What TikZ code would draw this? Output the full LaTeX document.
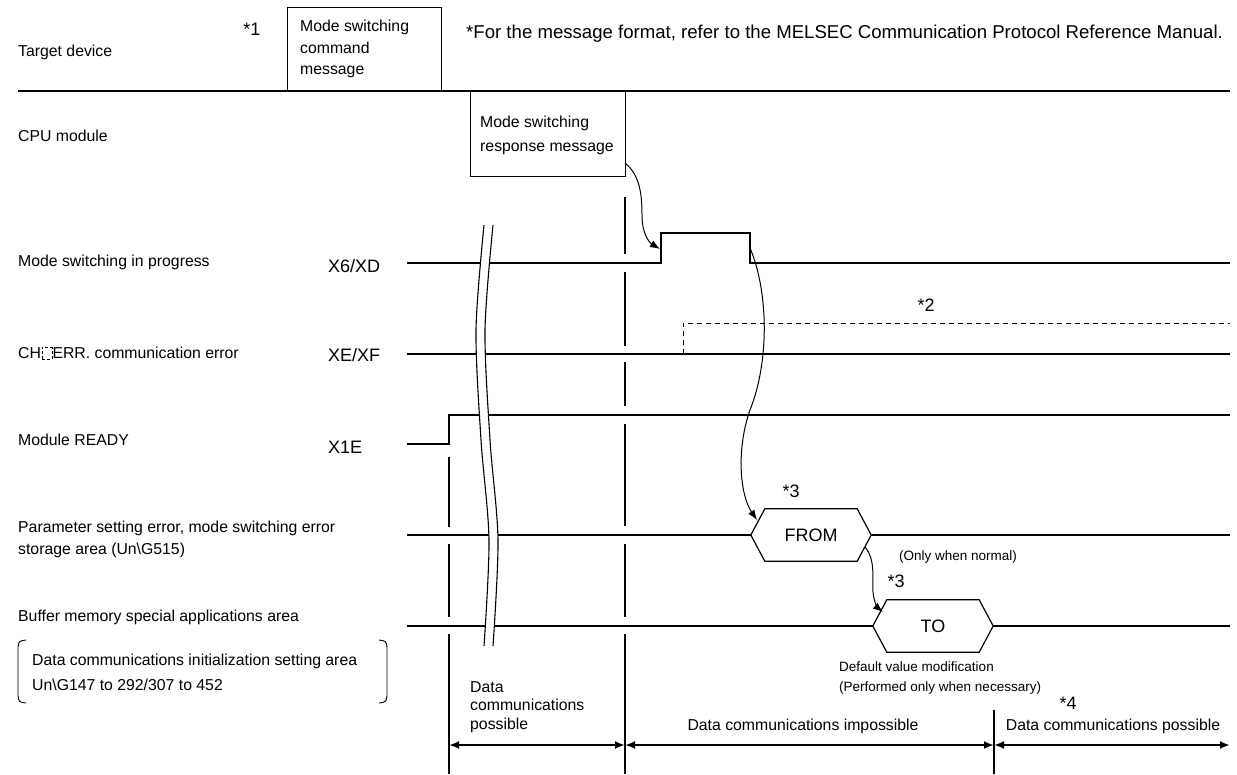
\documentclass[tikz,border=0pt]{standalone}
\usepackage{fontspec}
\setmainfont{Liberation Sans}
\usetikzlibrary{arrows.meta}
\begin{document}
\begin{tikzpicture}[x=1pt,y=-1pt,
  lbl/.style={anchor=west,inner sep=0pt,font=\fontsize{15.8}{19}\selectfont},
  big/.style={inner sep=0pt,font=\fontsize{18}{21}\selectfont},
  small/.style={anchor=west,inner sep=0pt,align=left,font=\fontsize{13.5}{20}\selectfont},
  sig/.style={line width=2.1pt},
  vline/.style={line width=2pt},
  msgbox/.style={draw,line width=1.1pt,anchor=north west,inner sep=0pt},
  hexnode/.style={minimum width=120pt,minimum height=52pt,inner sep=0pt,font=\fontsize{18}{21}\selectfont},
  hexline/.style={line width=1.2pt},
  carrow/.style={line width=1pt,-{Latex[length=10pt,width=7.5pt]}},
  darrow/.style={line width=2pt,{Latex[length=10pt,width=8pt]}-{Latex[length=10pt,width=8pt]}},
  brk/.style={line width=1.1pt}
]
\useasboundingbox (0,0) rectangle (1237,774);

% ---------- top section ----------
\node[lbl] (tdev) at (18,52) {Target device};
\node[big] (s1) at (252,29) {*1};
\node[msgbox,minimum width=154pt,minimum height=84pt] (cmd) at (287,7) {};
\node[lbl,align=left,anchor=north west,font=\fontsize{15.8}{21.5}\selectfont] (cmdt) at (300,20) {Mode switching\\command\\message};
\node[anchor=west,inner sep=0pt,font=\fontsize{18.6}{21}\selectfont] (note) at (466,34) {*For the message format, refer to the MELSEC Communication Protocol Reference Manual.};
\draw[line width=2.5pt] (18,91) -- (1230,91);

\node[lbl] (cpu) at (18,136) {CPU module};
\node[msgbox,minimum width=155pt,minimum height=85pt] (resp) at (470,91) {};
\node[lbl,align=left,anchor=north west,font=\fontsize{15.8}{24}\selectfont] (respt) at (480,116) {Mode switching\\response message};

% ---------- X6/XD ----------
\node[lbl] (l1) at (18,262) {Mode switching in progress};
\node[big,anchor=west] (x6) at (328,266) {X6/XD};
\draw[sig] (407,263) -- (661,263) -- (661,233) -- (750,233) -- (750,263) -- (1230,263);

% ---------- XE/XF ----------
\node[lbl] (l2) at (18,353) {CH\hspace{0.5pt}\tikz[baseline=0pt,x=1pt,y=1pt]\draw[densely dashed,line width=0.5pt] (0,0) rectangle (10,11.5);\hspace{0.5pt}ERR. communication error};
\node[big,anchor=west] (xe) at (328,355) {XE/XF};
\draw[sig] (407,354) -- (1230,354);
\draw[line width=1pt,dash pattern=on 5pt off 4pt] (683,354) -- (683,323) -- (1230,323);
\node[big] (s2) at (926,305) {*2};

% ---------- X1E ----------
\node[lbl] (l3) at (18,440) {Module READY};
\node[big,anchor=west] (x1e) at (328,447) {X1E};
\draw[sig] (407,444) -- (449,444) -- (449,415) -- (1230,415);

% ---------- Un\G515 ----------
\node[lbl,align=left,font=\fontsize{15.8}{22}\selectfont] (l4) at (18,539) {Parameter setting error, mode switching error\\storage area (Un\textbackslash G515)};
\node[hexnode] (from) at (811,535) {FROM};
\draw[sig] (407,535) -- (from.west);
\draw[sig] (from.east) -- (1230,535);
\draw[hexline] (from.west) -- ([xshift=14pt]from.north west) -- ([xshift=-14pt]from.north east) -- (from.east) -- ([xshift=-14pt]from.south east) -- ([xshift=14pt]from.south west) -- cycle;

% ---------- buffer memory ----------
\node[lbl] (l5) at (18,617) {Buffer memory special applications area};
\node[hexnode] (to) at (933,626) {TO};
\draw[sig] (407,626) -- (to.west);
\draw[sig] (to.east) -- (1230,626);
\draw[hexline] (to.west) -- ([xshift=14pt]to.north west) -- ([xshift=-14pt]to.north east) -- (to.east) -- ([xshift=-14pt]to.south east) -- ([xshift=14pt]to.south west) -- cycle;

\node[lbl,align=left,font=\fontsize{15.8}{25}\selectfont] (l6) at (32,672) {Data communications initialization setting area\\Un\textbackslash G147 to 292/307 to 452};
\draw[line width=0.9pt] (26,640) .. controls (19,641) .. (18,647) -- (18,696) .. controls (19,702) .. (26,703);
\draw[line width=0.9pt] (379,640) .. controls (386,641) .. (387,647) -- (387,696) .. controls (386,702) .. (379,703);

% ---------- break symbol ----------
\fill[white] plot[smooth] coordinates {(484,225) (476,330) (481,440) (489,540) (484,646)} -- plot[smooth] coordinates {(493,646) (498,540) (490,440) (485,330) (493,225)} -- cycle;
\draw[brk] plot[smooth] coordinates {(484,225) (476,330) (481,440) (489,540) (484,646)};
\draw[brk] plot[smooth] coordinates {(493,225) (485,330) (490,440) (498,540) (493,646)};

% ---------- vertical markers ----------
\draw[vline] (449,457) -- (449,527);
\draw[vline] (449,544) -- (449,617);
\draw[vline] (449,634) -- (449,774);
\draw[vline] (625,197) -- (625,254);
\draw[vline] (625,272) -- (625,346);
\draw[vline] (625,362) -- (625,406);
\draw[vline] (625,424) -- (625,526);
\draw[vline] (625,544) -- (625,617);
\draw[vline] (625,634) -- (625,774);
\draw[vline] (994,710) -- (994,774);

% ---------- curved arrows ----------
\coordinate (c1s) at (625,163);
\coordinate (c1e) at (660,249);
\draw[carrow] (c1s) .. controls (640,175) and (642,195) .. (642,215) .. controls (642,235) and (650,243) .. (c1e);
\coordinate (c2s) at (750,248);
\coordinate (c2e) at (757,520);
\draw[carrow] (c2s) .. controls (768,290) and (770,360) .. (750,410) .. controls (736,450) and (740,495) .. (c2e);
\node[big] (s3a) at (791,491) {*3};
\coordinate (c3s) at (865,547);
\coordinate (c3e) at (883,612);
\draw[carrow] (c3s) .. controls (876,560) and (872,580) .. (873,592) .. controls (874,603) and (878,608) .. (c3e);
\node[small] (onl) at (899,557) {(Only when normal)};
\node[big] (s3b) at (896,581) {*3};
\node[small] (dvm) at (839,678) {Default value modification\\(Performed only when necessary)};
\node[big] (s4) at (1068,703) {*4};

% ---------- bottom period arrows ----------
\coordinate (p0) at (449,745);
\coordinate (p1) at (625,745);
\coordinate (p2) at (994,745);
\coordinate (p3) at (1230,745);
\draw[darrow] (p0) -- (p1);
\draw[darrow] (p1) -- (p2);
\draw[darrow] (p2) -- (p3);
\node[lbl,align=left,font=\fontsize{15.8}{18.5}\selectfont] (dcp1) at (470,707) {Data\\communications\\possible};
\node[lbl,anchor=center] (dci) at (803,726) {Data communications impossible};
\node[lbl,anchor=center] (dcp2) at (1113,726) {Data communications possible};
\end{tikzpicture}
\end{document}
